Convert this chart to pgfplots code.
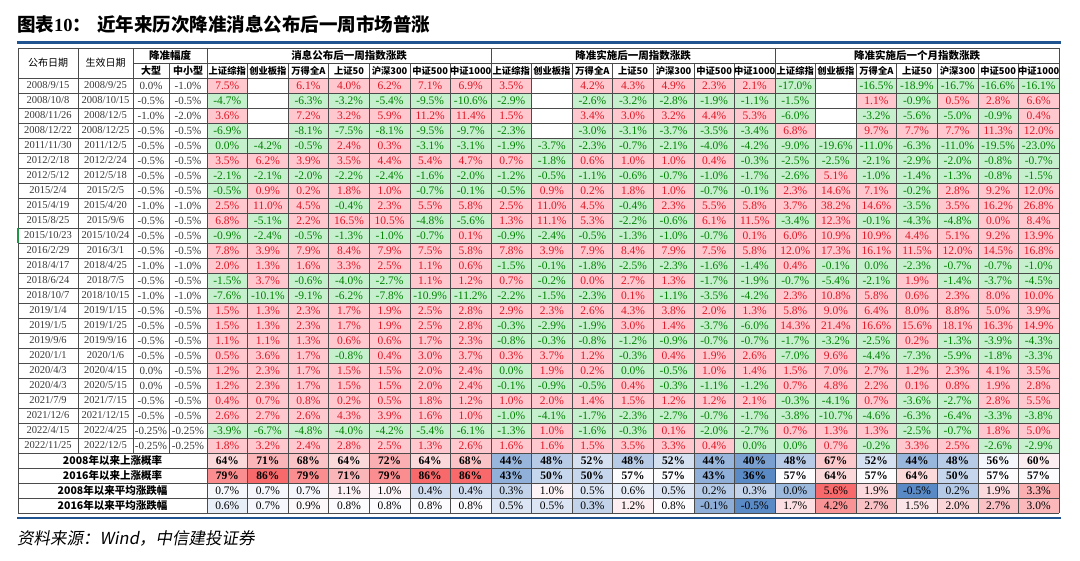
\documentclass[border=0pt]{standalone}
\usepackage{fontspec}
\usepackage{pgfplots}
\usepackage{pgfplotstable}
\pgfplotsset{compat=1.18}
\setmainfont{Liberation Serif}
\newfontfamily\cjk{Noto Sans CJK SC}
\newfontfamily\cjkit[FakeSlant=0.18]{Noto Sans CJK SC}
\definecolor{pinkfill}{RGB}{255,199,206}
\definecolor{greenfill}{RGB}{198,239,206}
\definecolor{redtxt}{RGB}{222,22,36}
\definecolor{greentxt}{RGB}{0,128,0}
\definecolor{gridc}{RGB}{75,75,75}
\definecolor{barblue}{RGB}{31,84,145}
\definecolor{datec}{RGB}{55,55,55}
\definecolor{selgreen}{RGB}{30,150,70}

\pgfdeclareplotmark{cell}{\pgfpathrectangle{\pgfqpoint{-20.2857pt}{-7.5pt}}{\pgfqpoint{40.5714pt}{15pt}}\pgfusepathqfill}
\pgfdeclareplotmark{nothing}{}

\pgfplotsset{
  numlabel/.style={point meta=explicit symbolic,
    nodes near coords={\pgfmathprintnumber[fixed,fixed zerofill,precision=1,assume math mode=true]{\pgfplotspointmeta}\%},
    nodes near coords align={center},
    every node near coord/.append style={font=\fontsize{11.5}{12}\selectfont, inner sep=0pt, anchor=center}},
  cellpos/.style={only marks, mark=cell, color=redtxt, mark options={fill=pinkfill, draw=none}, numlabel,
    restrict expr to domain={\thisrow{#1}}{0.005:1000}},
  cellneg/.style={only marks, mark=cell, color=greentxt, mark options={fill=greenfill, draw=none}, numlabel,
    restrict expr to domain={\thisrow{#1}}{-1000:0.005}},
  txtcol/.style={only marks, mark=nothing, point meta=explicit symbolic,
    nodes near coords align={center},
    every node near coord/.append style={inner sep=0pt, anchor=center}},
}

% main table (the ChiNext column is kept apart below, as it has no data for 2008)
\pgfplotstableread{
pub eff big small v1 v3 v4 v5 v6 v7 v8 v10 v11 v12 v13 v14 v15 v17 v18 v19 v20 v21
2008/9/15 2008/9/25 0.0 -1.0 7.5 6.1 4.0 6.2 7.1 6.9 3.5 4.2 4.3 4.9 2.3 2.1 -17.0 -16.5 -18.9 -16.7 -16.6 -16.1
2008/10/8 2008/10/15 -0.5 -0.5 -4.7 -6.3 -3.2 -5.4 -9.5 -10.6 -2.9 -2.6 -3.2 -2.8 -1.9 -1.1 -1.5 1.1 -0.9 0.5 2.8 6.6
2008/11/26 2008/12/5 -1.0 -2.0 3.6 7.2 3.2 5.9 11.2 11.4 1.5 3.4 3.0 3.2 4.4 5.3 -6.0 -3.2 -5.6 -5.0 -0.9 0.4
2008/12/22 2008/12/25 -0.5 -0.5 -6.9 -8.1 -7.5 -8.1 -9.5 -9.7 -2.3 -3.0 -3.1 -3.7 -3.5 -3.4 6.8 9.7 7.7 7.7 11.3 12.0
2011/11/30 2011/12/5 -0.5 -0.5 0 -0.5 2.4 0.3 -3.1 -3.1 -1.9 -2.3 -0.7 -2.1 -4.0 -4.2 -9.0 -11.0 -6.3 -11.0 -19.5 -23.0
2012/2/18 2012/2/24 -0.5 -0.5 3.5 3.9 3.5 4.4 5.4 4.7 0.7 0.6 1.0 1.0 0.4 -0.3 -2.5 -2.1 -2.9 -2.0 -0.8 -0.7
2012/5/12 2012/5/18 -0.5 -0.5 -2.1 -2.0 -2.2 -2.4 -1.6 -2.0 -1.2 -1.1 -0.6 -0.7 -1.0 -1.7 -2.6 -1.0 -1.4 -1.3 -0.8 -1.5
2015/2/4 2015/2/5 -0.5 -0.5 -0.5 0.2 1.8 1.0 -0.7 -0.1 -0.5 0.2 1.8 1.0 -0.7 -0.1 2.3 7.1 -0.2 2.8 9.2 12.0
2015/4/19 2015/4/20 -1.0 -1.0 2.5 4.5 -0.4 2.3 5.5 5.8 2.5 4.5 -0.4 2.3 5.5 5.8 3.7 14.6 -3.5 3.5 16.2 26.8
2015/8/25 2015/9/6 -0.5 -0.5 6.8 2.2 16.5 10.5 -4.8 -5.6 1.3 5.3 -2.2 -0.6 6.1 11.5 -3.4 -0.1 -4.3 -4.8 0.01 8.4
2015/10/23 2015/10/24 -0.5 -0.5 -0.9 -0.5 -1.3 -1.0 -0.7 0.1 -0.9 -0.5 -1.3 -1.0 -0.7 0.1 6.0 10.9 4.4 5.1 9.2 13.9
2016/2/29 2016/3/1 -0.5 -0.5 7.8 7.9 8.4 7.9 7.5 5.8 7.8 7.9 8.4 7.9 7.5 5.8 12.0 16.1 11.5 12.0 14.5 16.8
2018/4/17 2018/4/25 -1.0 -1.0 2.0 1.6 3.3 2.5 1.1 0.6 -1.5 -1.8 -2.5 -2.3 -1.6 -1.4 0.4 0 -2.3 -0.7 -0.7 -1.0
2018/6/24 2018/7/5 -0.5 -0.5 -1.5 -0.6 -4.0 -2.7 1.1 1.2 0.7 0.01 2.7 1.3 -1.7 -1.9 -0.7 -2.1 1.9 -1.4 -3.7 -4.5
2018/10/7 2018/10/15 -1.0 -1.0 -7.6 -9.1 -6.2 -7.8 -10.9 -11.2 -2.2 -2.3 0.1 -1.1 -3.5 -4.2 2.3 5.8 0.6 2.3 8.0 10.0
2019/1/4 2019/1/15 -0.5 -0.5 1.5 2.3 1.7 1.9 2.5 2.8 2.9 2.6 4.3 3.8 2.0 1.3 5.8 6.4 8.0 8.8 5.0 3.9
2019/1/5 2019/1/25 -0.5 -0.5 1.5 2.3 1.7 1.9 2.5 2.8 -0.3 -1.9 3.0 1.4 -3.7 -6.0 14.3 16.6 15.6 18.1 16.3 14.9
2019/9/6 2019/9/16 -0.5 -0.5 1.1 1.3 0.6 0.6 1.7 2.3 -0.8 -0.8 -1.2 -0.9 -0.7 -0.7 -1.7 -2.5 0.2 -1.3 -3.9 -4.3
2020/1/1 2020/1/6 -0.5 -0.5 0.5 1.7 -0.8 0.4 3.0 3.7 0.3 1.2 -0.3 0.4 1.9 2.6 -7.0 -4.4 -7.3 -5.9 -1.8 -3.3
2020/4/3 2020/4/15 0.0 -0.5 1.2 1.7 1.5 1.5 2.0 2.4 0 0.2 0 -0.5 1.0 1.4 1.5 2.7 1.2 2.3 4.1 3.5
2020/4/3 2020/5/15 0.0 -0.5 1.2 1.7 1.5 1.5 2.0 2.4 -0.1 -0.5 0.4 -0.3 -1.1 -1.2 0.7 2.2 0.1 0.8 1.9 2.8
2021/7/9 2021/7/15 -0.5 -0.5 0.4 0.8 0.2 0.5 1.8 1.2 1.0 1.4 1.5 1.2 1.2 2.1 -0.3 0.7 -3.6 -2.7 2.8 5.5
2021/12/6 2021/12/15 -0.5 -0.5 2.6 2.6 4.3 3.9 1.6 1.0 -1.0 -1.7 -2.3 -2.7 -0.7 -1.7 -3.8 -4.6 -6.3 -6.4 -3.3 -3.8
2022/4/15 2022/4/25 -0.25 -0.25 -3.9 -4.8 -4.0 -4.2 -5.4 -6.1 -1.3 -1.6 -0.3 0.1 -2.0 -2.7 0.7 1.3 -2.5 -0.7 1.8 5.0
2022/11/25 2022/12/5 -0.25 -0.25 1.8 2.4 2.8 2.5 1.3 2.6 1.6 1.5 3.5 3.3 0.4 0 0 -0.2 3.3 2.5 -2.6 -2.9
}\data

% ChiNext (创业板指) in the three blocks, from 2011/11/30 on
\pgfplotstableread{
v2 v9 v16
-4.2 -3.7 -19.6
6.2 -1.8 -2.5
-2.1 -0.5 5.1
0.9 0.9 14.6
11.0 11.0 38.2
-5.1 11.1 12.3
-2.4 -2.4 10.9
3.9 3.9 17.3
1.3 -0.1 -0.1
3.7 -0.2 -5.4
-10.1 -1.5 10.8
1.3 2.3 9.0
1.3 -2.9 21.4
1.1 -0.3 -3.2
3.6 3.7 9.6
2.3 1.9 7.0
2.3 -0.9 4.8
0.7 2.0 -4.1
2.7 -4.1 -10.7
-6.7 1.0 1.3
3.2 1.6 0.7
}\cyb

\pgfplotstableread{
lab s1 s2 s3 s4 s5 s6 s7 s8 s9 s10 s11 s12 s13 s14 s15 s16 s17 s18 s19 s20 s21
2008年以来上涨概率 64 71 68 64 72 64 68 44 48 52 48 52 44 40 48 67 52 44 48 56 60
2016年以来上涨概率 79 86 79 71 79 86 86 43 50 50 57 57 43 36 57 64 57 64 50 57 57
}\sump

\pgfplotstableread{
lab s1 s2 s3 s4 s5 s6 s7 s8 s9 s10 s11 s12 s13 s14 s15 s16 s17 s18 s19 s20 s21
2008年以来平均涨跌幅 0.7 0.7 0.7 1.1 1.0 0.4 0.4 0.3 1.0 0.5 0.6 0.5 0.2 0.3 0.0 5.6 1.9 -0.5 0.2 1.9 3.3
2016年以来平均涨跌幅 0.6 0.7 0.9 0.8 0.8 0.8 0.8 0.5 0.5 0.3 1.2 0.8 -0.1 -0.5 1.7 4.2 2.7 1.5 2.0 2.7 3.0
}\suma

\begin{document}
\begin{tikzpicture}
\begin{axis}[
  at={(0pt,0pt)}, anchor=south west,
  width=1080pt, height=561pt, scale only axis,
  xmin=0, xmax=1080, ymin=0, ymax=561, y dir=reverse,
  hide axis, clip=false,
  colormap={heat}{rgb255(0cm)=(90,138,198) rgb255(1cm)=(252,252,255) rgb255(2cm)=(248,105,107)},
  point meta min=-1, point meta max=1,
]
% index changes: red cells (rise) and green cells (fall or flat)
\pgfplotsinvokeforeach{1,3,4,5,6,7,8,10,11,12,13,14,15,17,18,19,20,21}{
\addplot[cellpos=v#1] table[x expr={207+40.5714*(#1-0.5)}, y expr={85.5+15*\coordindex}, meta=v#1] {\data};
\addplot[cellneg=v#1] table[x expr={207+40.5714*(#1-0.5)}, y expr={85.5+15*\coordindex}, meta=v#1] {\data};
}
\pgfplotsinvokeforeach{2,9,16}{
\addplot[cellpos=v#1] table[x expr={207+40.5714*(#1-0.5)}, y expr={145.5+15*\coordindex}, meta=v#1] {\cyb};
\addplot[cellneg=v#1] table[x expr={207+40.5714*(#1-0.5)}, y expr={145.5+15*\coordindex}, meta=v#1] {\cyb};
}
% dates and RRR cuts
\addplot[txtcol, color=datec, nodes near coords={\pgfplotspointmeta},
  every node near coord/.append style={font=\fontsize{10.5}{12}\selectfont}]
  table[x expr=48, y expr={85.5+15*\coordindex}, meta=pub] {\data};
\addplot[txtcol, color=datec, nodes near coords={\pgfplotspointmeta},
  every node near coord/.append style={font=\fontsize{10.5}{12}\selectfont}]
  table[x expr=105.5, y expr={85.5+15*\coordindex}, meta=eff] {\data};
\addplot[txtcol, color=datec, nodes near coords={\pgfplotspointmeta\%},
  every node near coord/.append style={font=\fontsize{11}{12}\selectfont}]
  table[x expr=151, y expr={85.5+15*\coordindex}, meta=big] {\data};
\addplot[txtcol, color=datec, nodes near coords={\pgfplotspointmeta\%},
  every node near coord/.append style={font=\fontsize{11}{12}\selectfont}]
  table[x expr=188, y expr={85.5+15*\coordindex}, meta=small] {\data};
% summary rows
\pgfplotsinvokeforeach{1,...,21}{
\addplot[scatter, only marks, mark=cell, scatter/use mapped color={draw=none, fill=mapped color},
  point meta={\thisrow{s#1}>57 ? (\thisrow{s#1}-57)/29 : (\thisrow{s#1}-57)/21}]
  table[x expr={207+40.5714*(#1-0.5)}, y expr={460.5+15*\coordindex}] {\sump};
\addplot[txtcol, color=black, nodes near coords={\bfseries\pgfplotspointmeta\%},
  every node near coord/.append style={font=\fontsize{11.5}{12}\selectfont}]
  table[x expr={207+40.5714*(#1-0.5)}, y expr={460.5+15*\coordindex}, meta=s#1] {\sump};
\addplot[scatter, only marks, mark=cell, scatter/use mapped color={draw=none, fill=mapped color},
  point meta={\thisrow{s#1}>0.75 ? (\thisrow{s#1}-0.75)/4.85 : (\thisrow{s#1}-0.75)/1.25}]
  table[x expr={207+40.5714*(#1-0.5)}, y expr={490.5+15*\coordindex}] {\suma};
\addplot[txtcol, color=black, nodes near coords={\pgfplotspointmeta\%},
  every node near coord/.append style={font=\fontsize{11.5}{12}\selectfont}]
  table[x expr={207+40.5714*(#1-0.5)}, y expr={490.5+15*\coordindex}, meta=s#1] {\suma};
}
\addplot[txtcol, color=black, nodes near coords={\cjk\bfseries\pgfplotspointmeta},
  every node near coord/.append style={font=\fontsize{10.5}{12}\selectfont}]
  table[x expr=112.5, y expr={460.5+15*\coordindex}, meta=lab] {\sump};
\addplot[txtcol, color=black, nodes near coords={\cjk\bfseries\pgfplotspointmeta},
  every node near coord/.append style={font=\fontsize{10.5}{12}\selectfont}]
  table[x expr=112.5, y expr={490.5+15*\coordindex}, meta=lab] {\suma};
\end{axis}

\begin{scope}[x=1pt, y=-1pt, yshift=561pt]
\begin{scope}[draw=gridc, line width=0.7pt]
\draw (18,48) -- (1059,48);
\draw (133,63) -- (1059,63);
\foreach \y in {78,93,...,513} \draw (18,\y) -- (1059,\y);
\foreach \x in {18,78,133} \draw (\x,48) -- (\x,453);
\draw (18,453) -- (18,513);
\draw (169,63) -- (169,453);
\draw (207,48) -- (207,513);
\foreach \k in {1,...,21} {\pgfmathsetmacro\xx{207+40.5714*\k}\draw (\xx,63) -- (\xx,513);}
\foreach \x in {491,775,1059} \draw (\x,48) -- (\x,63);
\end{scope}
\draw[selgreen, line width=1.2pt] (18,228) -- (18,243);
\draw[barblue, line width=3pt] (17,43) -- (1061,43);
\draw[barblue, line width=2.5pt] (17,518) -- (1061,518);
\node[anchor=west, inner sep=0pt, font=\fontsize{18.5}{20}\selectfont] at (17,24) {{\cjk\bfseries 图表}{\bfseries 10}{\cjk\bfseries ：}};
\node[anchor=west, inner sep=0pt, font=\fontsize{18.5}{20}\selectfont] at (97,24) {\cjk\bfseries 近年来历次降准消息公布后一周市场普涨};
\node[anchor=west, inner sep=0pt, font=\fontsize{16.5}{18}\selectfont] at (17,538) {\cjkit 资料来源：{\itshape Wind}，中信建投证券};
\begin{scope}[every node/.style={inner sep=0pt, anchor=center}]
\node[font=\fontsize{10}{12}\selectfont\cjk] at (48,63) {公布日期};
\node[font=\fontsize{10}{12}\selectfont\cjk] at (105.5,63) {生效日期};
\node[font=\fontsize{10.5}{12}\selectfont\cjk\bfseries] at (170,55.5) {降准幅度};
\node[font=\fontsize{10.5}{12}\selectfont\cjk\bfseries] at (349,55.5) {消息公布后一周指数涨跌};
\node[font=\fontsize{10.5}{12}\selectfont\cjk\bfseries] at (633,55.5) {降准实施后一周指数涨跌};
\node[font=\fontsize{10.5}{12}\selectfont\cjk\bfseries] at (917,55.5) {降准实施后一个月指数涨跌};
\node[font=\fontsize{10}{12}\selectfont\cjk\bfseries] at (151,70.5) {大型};
\node[font=\fontsize{10}{12}\selectfont\cjk\bfseries] at (188,70.5) {中小型};
\foreach \g in {0,284,568} {
  \begin{scope}[xshift=\g pt, every node/.append style={font=\fontsize{9.3}{11}\selectfont\cjk\bfseries}]
  \node at (227.29,70.5) {上证综指};
  \node at (267.86,70.5) {创业板指};
  \node at (308.43,70.5) {万得全A};
  \node at (349.00,70.5) {上证50};
  \node at (389.57,70.5) {沪深300};
  \node at (430.14,70.5) {中证500};
  \node at (470.71,70.5) {中证1000};
  \end{scope}
}
\end{scope}
\end{scope}
\pgfresetboundingbox
\useasboundingbox (0pt,0pt) rectangle (1080pt,561pt);
\end{tikzpicture}
\end{document}
